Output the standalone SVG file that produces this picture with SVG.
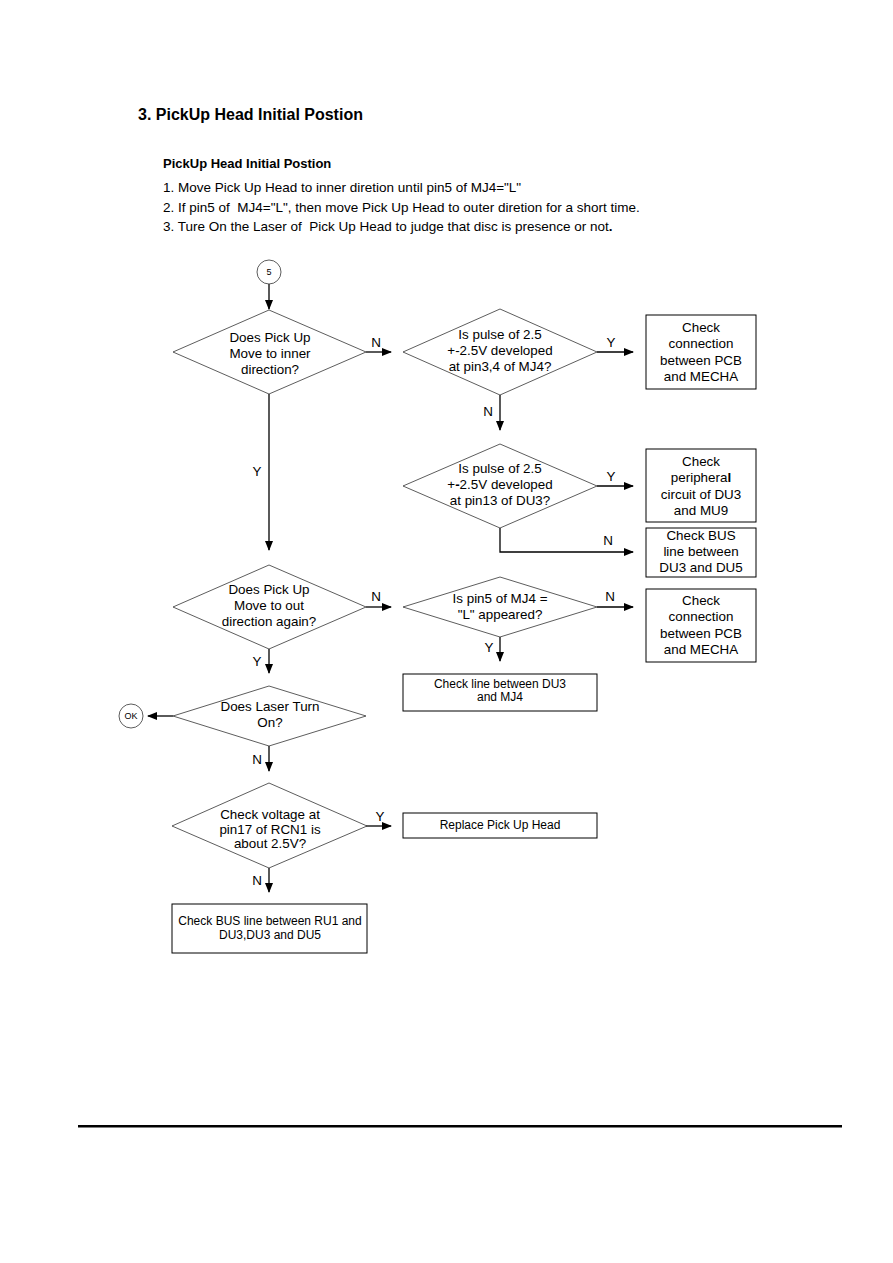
<svg xmlns="http://www.w3.org/2000/svg" width="893" height="1263" viewBox="0 0 893 1263">
<defs>
<marker id="ah" markerWidth="10" markerHeight="8" refX="9" refY="4" orient="auto" markerUnits="userSpaceOnUse">
<path d="M0,0 L10,4 L0,8 Z" fill="#000"/>
</marker>
<style>
text{font-family:"Liberation Sans",Arial,sans-serif;fill:#000}
.t{font-size:13.4px;text-anchor:middle}
.s{font-size:12px;text-anchor:middle}
.c{font-size:9px;text-anchor:middle}
.lb{font-size:13.4px;text-anchor:middle}
.intro{font-size:13.5px;white-space:pre}
.dia{fill:#fff;stroke:#333;stroke-width:0.8}
.box{fill:#fff;stroke:#000;stroke-width:1}
.cir{fill:#fff;stroke:#333;stroke-width:0.8}
.con{fill:none;stroke:#000;stroke-width:1.3;marker-end:url(#ah)}
</style>
</defs>
<rect width="893" height="1263" fill="#fff"/>
<g id="header">
<text x="138" y="120" style="font-size:16px;font-weight:bold">3. PickUp Head Initial Postion</text>
<text x="163" y="168" style="font-size:13px;font-weight:bold">PickUp Head Initial Postion</text>
<text class="intro" x="163" y="192" xml:space="preserve">1. Move Pick Up Head to inner diretion until pin5 of MJ4="L"</text>
<text class="intro" x="163" y="212" xml:space="preserve">2. If pin5 of  MJ4="L", then move Pick Up Head to outer diretion for a short time.</text>
<text class="intro" x="163" y="231" xml:space="preserve">3. Ture On the Laser of  Pick Up Head to judge that disc is presence or not<tspan font-weight="bold">.</tspan></text>
</g>
<g id="connectors">
<line class="con" x1="269" y1="284" x2="269" y2="309"/>
<line class="con" x1="366" y1="352" x2="391" y2="352"/>
<line class="con" x1="597" y1="352" x2="633" y2="352"/>
<line class="con" x1="500" y1="395" x2="500" y2="430"/>
<line class="con" x1="597" y1="486" x2="633" y2="486"/>
<polyline class="con" points="500,528 500,552 633,552"/>
<line class="con" x1="269" y1="394" x2="269" y2="550"/>
<line class="con" x1="366" y1="607" x2="391" y2="607"/>
<line class="con" x1="597" y1="607" x2="633" y2="607"/>
<line class="con" x1="500" y1="637" x2="500" y2="661"/>
<line class="con" x1="269" y1="649" x2="269" y2="673"/>
<line class="con" x1="173" y1="716" x2="148" y2="716"/>
<line class="con" x1="269" y1="746" x2="269" y2="771"/>
<line class="con" x1="366" y1="826" x2="391" y2="826"/>
<line class="con" x1="269" y1="868" x2="269" y2="892"/>
<text class="lb" x="376" y="347">N</text>
<text class="lb" x="611" y="347">Y</text>
<text class="lb" x="488" y="416">N</text>
<text class="lb" x="611" y="481">Y</text>
<text class="lb" x="608" y="545">N</text>
<text class="lb" x="257" y="476">Y</text>
<text class="lb" x="376" y="601">N</text>
<text class="lb" x="610" y="601">N</text>
<text class="lb" x="489" y="652">Y</text>
<text class="lb" x="257" y="666">Y</text>
<text class="lb" x="257" y="764">N</text>
<text class="lb" x="380" y="821">Y</text>
<text class="lb" x="257" y="885">N</text>
</g>
<g id="start5">
<circle class="cir" cx="269" cy="272" r="12"/>
<text class="c" x="269" y="275">5</text>
</g>
<g id="d1">
<polygon class="dia" points="269,310 366,352 269,394 173,352"/>
<text class="t" x="270" y="342">Does Pick Up</text>
<text class="t" x="270" y="358">Move to inner</text>
<text class="t" x="270" y="374">direction?</text>
</g>
<g id="d2">
<polygon class="dia" points="500,309 597,352 500,395 403,352"/>
<text class="t" x="500" y="339">Is pulse of 2.5</text>
<text class="t" x="500" y="355">+-2.5V developed</text>
<text class="t" x="500" y="371">at pin3,4 of MJ4?</text>
</g>
<g id="b1">
<rect class="box" x="646" y="315" width="110" height="74"/>
<text class="t" x="701" y="332">Check</text>
<text class="t" x="701" y="348">connection</text>
<text class="t" x="701" y="365">between PCB</text>
<text class="t" x="701" y="381">and MECHA</text>
</g>
<g id="d3">
<polygon class="dia" points="500,444 597,486 500,528 403,486"/>
<text class="t" x="500" y="473">Is pulse of 2.5</text>
<text class="t" x="500" y="489">+<tspan font-weight="bold">-</tspan>2.5V developed</text>
<text class="t" x="500" y="505">at pin13 of DU3?</text>
</g>
<g id="b2">
<rect class="box" x="646" y="449" width="110" height="73"/>
<text class="t" x="701" y="466">Check</text>
<text class="t" x="701" y="482">periphera<tspan font-weight="bold">l</tspan></text>
<text class="t" x="701" y="499">circuit of DU3</text>
<text class="t" x="701" y="515">and MU9</text>
</g>
<g id="b3">
<rect class="box" x="646" y="528" width="110" height="49"/>
<text class="t" x="701" y="540">Check BUS</text>
<text class="t" x="701" y="556">line between</text>
<text class="t" x="701" y="572">DU3 and DU5</text>
</g>
<g id="d4">
<polygon class="dia" points="269,565 366,607 269,649 173,607"/>
<text class="t" x="269" y="594">Does Pick Up</text>
<text class="t" x="269" y="610">Move to out</text>
<text class="t" x="269" y="626">direction again?</text>
</g>
<g id="d5">
<polygon class="dia" points="500,577 597,607 500,637 403,607"/>
<text class="t" x="500" y="603">Is pin5 of MJ4 =</text>
<text class="t" x="500" y="619">"L" appeared?</text>
</g>
<g id="b4">
<rect class="box" x="646" y="589" width="110" height="73"/>
<text class="t" x="701" y="605">Check</text>
<text class="t" x="701" y="621">connection</text>
<text class="t" x="701" y="638">between PCB</text>
<text class="t" x="701" y="654">and MECHA</text>
</g>
<g id="b5">
<rect class="box" x="403" y="674" width="194" height="37"/>
<text class="s" x="500" y="688">Check line between DU3</text>
<text class="s" x="500" y="701">and MJ4</text>
</g>
<g id="d6">
<polygon class="dia" points="269,686 366,716 269,746 173,716"/>
<text class="t" x="270" y="711">Does Laser Turn</text>
<text class="t" x="270" y="727">On?</text>
</g>
<g id="ok">
<circle class="cir" cx="131" cy="716" r="12"/>
<text class="c" x="131" y="719">OK</text>
</g>
<g id="d7">
<polygon class="dia" points="269,783 367,826 269,868 172,826"/>
<text class="t" x="270" y="819">Check voltage at</text>
<text class="t" x="270" y="834">pin17 of RCN1 is</text>
<text class="t" x="270" y="848">about 2.5V?</text>
</g>
<g id="b6">
<rect class="box" x="403" y="813" width="194" height="25"/>
<text class="s" x="500" y="829">Replace Pick Up Head</text>
</g>
<g id="b7">
<rect class="box" x="172" y="904" width="195" height="49"/>
<text class="s" x="270" y="925">Check BUS line between RU1 and</text>
<text class="s" x="270" y="939">DU3,DU3 and DU5</text>
</g>
<g id="footer">
<rect x="78" y="1125" width="764" height="2.5" fill="#000"/>
</g>
</svg>
